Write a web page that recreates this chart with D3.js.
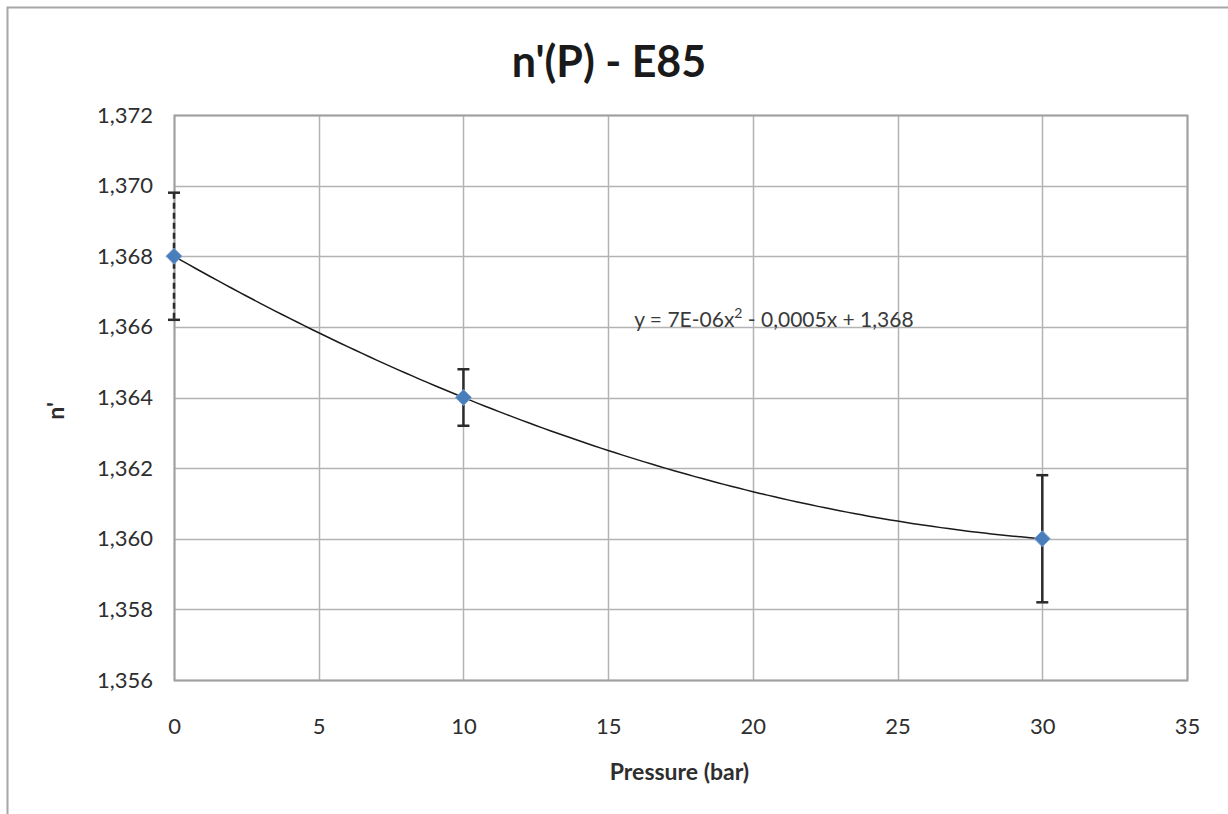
<!DOCTYPE html>
<html>
<head>
<meta charset="utf-8">
<script src="https://cdn.jsdelivr.net/npm/d3@7"></script>
<style>
  body { margin: 0; background: #fff; }
  svg { display: block; font-family: Lato, "Open Sans", sans-serif; }
</style>
</head>
<body>
<div id="wrapper"></div>
<script>
// data
var pressure = [0, 10, 30];
var nPrime = [1.368, 1.364, 1.360];
var errAmount = [0.0018, 0.0008, 0.0018];
var errDashed = [true, false, false];
var xTicks = [0, 5, 10, 15, 20, 25, 30, 35];
var yTicks = [1.356, 1.358, 1.360, 1.362, 1.364, 1.366, 1.368, 1.370, 1.372];
var titleText = "n'(P) - E85";
var xLabel = "Pressure (bar)";
var yLabel = "n'";

var W = 1228, H = 814;
var margin = {top: 115, right: 41, bottom: 134, left: 174};
var width = W - margin.left - margin.right,
    height = H - margin.top - margin.bottom;

var svg = d3.select("#wrapper").append("svg")
    .attr("width", W)
    .attr("height", H);

// outer chart frame (only left and top visible in the crop)
svg.append("rect")
    .attr("x", 7.5).attr("y", 7.5)
    .attr("width", W + 20).attr("height", H + 20)
    .attr("fill", "none")
    .attr("stroke", "#a6a6a6")
    .attr("stroke-width", 2);

var g = svg.append("g")
    .attr("transform", "translate(" + margin.left + "," + margin.top + ")");

var x = d3.scaleLinear().domain([0, 35]).range([0, width]);
var y = d3.scaleLinear().domain([1.356, 1.372]).range([height, 0]);

var locale = d3.formatLocale({decimal: ",", thousands: ".", grouping: [3], currency: ["", ""]});
var fmtY = locale.format(".3f");

// grid lines
g.append("g")
  .selectAll("line.gy")
  .data(yTicks)
  .enter().append("line")
    .attr("x1", 0).attr("x2", width)
    .attr("y1", function(d) { return Math.round(y(d)) + 0.5; })
    .attr("y2", function(d) { return Math.round(y(d)) + 0.5; })
    .attr("stroke", "#b3b3b3").attr("stroke-width", 1.5);

g.append("g")
  .selectAll("line.gx")
  .data(xTicks)
  .enter().append("line")
    .attr("y1", 0).attr("y2", height)
    .attr("x1", function(d) { return Math.round(x(d)) + 0.5; })
    .attr("x2", function(d) { return Math.round(x(d)) + 0.5; })
    .attr("stroke", "#b3b3b3").attr("stroke-width", 1.5);

// plot area border
g.append("rect")
    .attr("x", 0.5).attr("y", 0.5)
    .attr("width", width).attr("height", height)
    .attr("fill", "none")
    .attr("stroke", "#a0a0a0").attr("stroke-width", 2);

// axes (labels only)
var xAxis = g.append("g")
    .attr("transform", "translate(0," + height + ")")
    .call(d3.axisBottom(x).tickValues(xTicks).tickSize(0).tickPadding(52));
var yAxis = g.append("g")
    .call(d3.axisLeft(y).tickValues(yTicks).tickFormat(fmtY).tickSize(0).tickPadding(21));
[xAxis, yAxis].forEach(function(a) {
  a.select(".domain").remove();
  a.selectAll("text")
    .style("font-family", "Lato, 'Open Sans', sans-serif")
    .style("font-size", "22px")
    .attr("fill", "#2e2e2e");
});
xAxis.selectAll("text").attr("dy", "0.1em");

// quadratic trendline fitted to the points (least squares)
function polyFit2(xs, ys) {
  var n = xs.length, S = [0,0,0,0,0], T = [0,0,0];
  for (var i = 0; i < n; i++) {
    for (var k = 0; k < 5; k++) S[k] += Math.pow(xs[i], k);
    for (var j = 0; j < 3; j++) T[j] += ys[i] * Math.pow(xs[i], j);
  }
  var M = [[S[0],S[1],S[2],T[0]],[S[1],S[2],S[3],T[1]],[S[2],S[3],S[4],T[2]]];
  for (var c = 0; c < 3; c++) {
    for (var r = c + 1; r < 3; r++) {
      var f = M[r][c] / M[c][c];
      for (var q = c; q < 4; q++) M[r][q] -= f * M[c][q];
    }
  }
  var coef = [0,0,0];
  for (var r2 = 2; r2 >= 0; r2--) {
    var s = M[r2][3];
    for (var q2 = r2 + 1; q2 < 3; q2++) s -= M[r2][q2] * coef[q2];
    coef[r2] = s / M[r2][r2];
  }
  return coef;
}
var coef = polyFit2(pressure, nPrime);
var trendX = d3.range(0, 30.01, 0.25);
var line = d3.line()
    .x(function(d) { return x(d); })
    .y(function(d) { return y(coef[0] + coef[1] * d + coef[2] * d * d); });
g.append("path")
    .datum(trendX)
    .attr("d", line)
    .attr("fill", "none")
    .attr("stroke", "#1a1a1a")
    .attr("stroke-width", 1.5);

// error bars
var pts = pressure.map(function(p, i) {
  return {x: p, y: nPrime[i], e: errAmount[i], dashed: errDashed[i]};
});
var eb = g.selectAll(".err").data(pts).enter().append("g").attr("class", "err");
eb.append("line")
    .attr("x1", function(d) { return x(d.x); })
    .attr("x2", function(d) { return x(d.x); })
    .attr("y1", function(d) { return y(d.y + d.e); })
    .attr("y2", function(d) { return y(d.y - d.e); })
    .attr("stroke", "#2b2b2b")
    .attr("stroke-width", 2.5)
    .attr("stroke-dasharray", function(d) { return d.dashed ? "6,4" : null; });
[1, -1].forEach(function(sgn) {
  eb.append("line")
      .attr("x1", function(d) { return x(d.x) - 6; })
      .attr("x2", function(d) { return x(d.x) + 6; })
      .attr("y1", function(d) { return y(d.y + sgn * d.e); })
      .attr("y2", function(d) { return y(d.y + sgn * d.e); })
      .attr("stroke", "#2b2b2b")
      .attr("stroke-width", 2.5);
});

// markers
g.selectAll(".pt").data(pts).enter().append("path")
    .attr("class", "pt")
    .attr("transform", function(d) { return "translate(" + x(d.x) + "," + y(d.y) + ")"; })
    .attr("d", "M0,-8L8,0L0,8L-8,0Z")
    .attr("fill", "#4a7ebb")
    .attr("stroke", "#7aa3d6")
    .attr("stroke-width", 1);

// trendline equation
var eq = g.append("text")
    .attr("x", x(15.9))
    .attr("y", y(1.3666) + 21)
    .style("font-size", "21px")
    .attr("fill", "#3a3a3a");
eq.append("tspan").text("y = 7E-06x");
eq.append("tspan").attr("dy", -9).style("font-size", "14px").text("2");
eq.append("tspan").attr("dy", 9).text(" - 0,0005x + 1,368");

// title
svg.append("text")
    .attr("x", 609)
    .attr("y", 77)
    .attr("text-anchor", "middle")
    .style("font-size", "43px")
    .style("font-weight", "bold")
    .attr("fill", "#1a1a1a")
    .text(titleText);

// x axis label
svg.append("text")
    .attr("x", margin.left + width / 2 - 1)
    .attr("y", 780)
    .attr("text-anchor", "middle")
    .style("font-size", "23px")
    .style("font-weight", "bold")
    .attr("fill", "#2e2e2e")
    .text(xLabel);

// y axis label
svg.append("text")
    .attr("transform", "translate(64,411) rotate(-90)")
    .attr("text-anchor", "middle")
    .style("font-size", "23px")
    .style("font-weight", "bold")
    .attr("fill", "#2e2e2e")
    .text(yLabel);
</script>
</body>
</html>
